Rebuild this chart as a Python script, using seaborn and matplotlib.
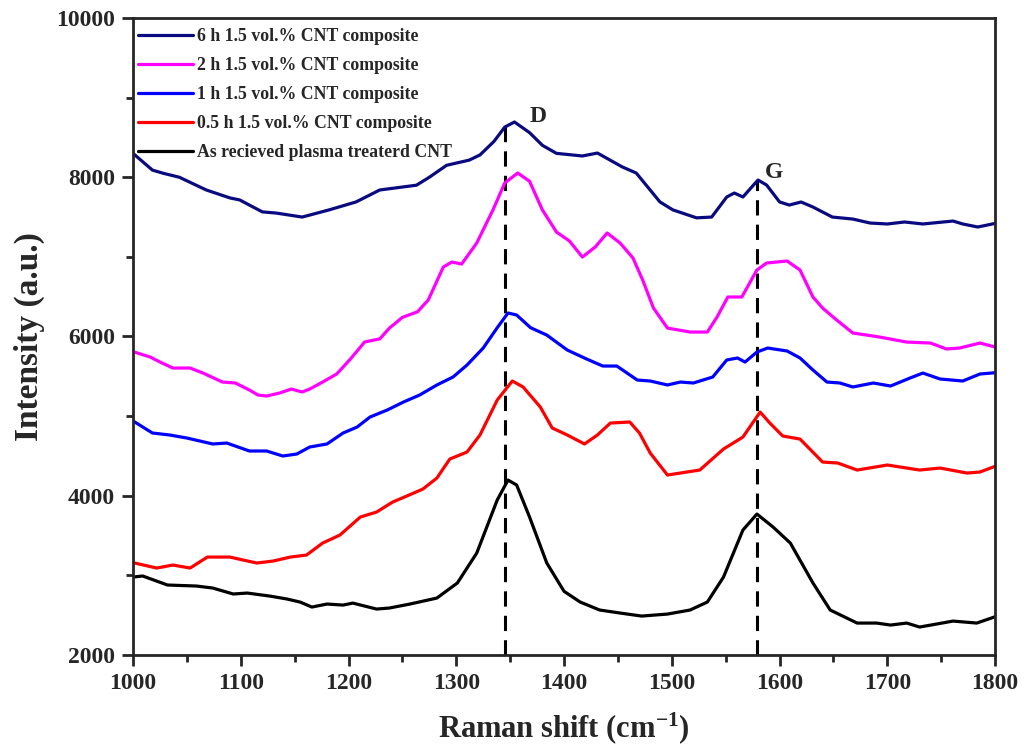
import numpy as np
import pandas as pd
import matplotlib
matplotlib.use("Agg")
import matplotlib.pyplot as plt
import seaborn as sns
from matplotlib.ticker import MultipleLocator

# Raman spectra (shift in cm^-1, intensity in a.u.)
shift_6h = [1000, 1018, 1028, 1043, 1068, 1090, 1099, 1120, 1133, 1157, 1182, 1207, 1229, 1263,
            1275, 1291, 1312, 1322, 1335, 1345, 1354, 1368, 1380, 1393, 1417, 1431, 1454, 1467,
            1489, 1501, 1523, 1537, 1551, 1558, 1566, 1580, 1588, 1600, 1609, 1620, 1631, 1649,
            1668, 1684, 1700, 1716, 1733, 1761, 1770, 1784, 1800]
int_6h = [8300, 8090, 8050, 8000, 7840, 7740, 7715, 7565, 7550, 7500, 7590, 7690, 7840, 7900,
          8000, 8150, 8215, 8280, 8450, 8630, 8694, 8560, 8400, 8300, 8267, 8304, 8130, 8053,
          7690, 7590, 7490, 7500, 7752, 7802, 7752, 7965, 7902, 7690, 7651, 7689, 7626, 7500,
          7475, 7425, 7413, 7438, 7413, 7450, 7413, 7375, 7420]

shift_2h = [1000, 1016, 1025, 1037, 1053, 1065, 1083, 1095, 1108, 1116, 1124, 1136, 1147, 1157,
            1164, 1176, 1189, 1201, 1215, 1229, 1238, 1250, 1264, 1274, 1288, 1296, 1305, 1319,
            1334, 1345, 1357, 1368, 1380, 1393, 1405, 1417, 1429, 1440, 1452, 1464, 1473, 1483,
            1496, 1517, 1533, 1542, 1552, 1565, 1579, 1588, 1607, 1619, 1631, 1640, 1653, 1668,
            1693, 1718, 1740, 1755, 1767, 1786, 1800]
int_2h = [5810, 5742, 5680, 5604, 5604, 5541, 5428, 5416, 5328, 5265, 5252, 5290, 5340, 5303,
          5340, 5428, 5529, 5705, 5931, 5970, 6106, 6240, 6310, 6458, 6873, 6935, 6910, 7174,
          7588, 7928, 8053, 7950, 7588, 7312, 7200, 6998, 7124, 7300, 7174, 6986, 6709, 6357,
          6106, 6056, 6056, 6244, 6496, 6496, 6835, 6923, 6948, 6835, 6496, 6357, 6207, 6044,
          5993, 5930, 5918, 5843, 5855, 5918, 5868]

shift_1h = [1000, 1018, 1034, 1050, 1074, 1087, 1108, 1124, 1139, 1152, 1164, 1180, 1195, 1208,
            1220, 1236, 1251, 1266, 1282, 1297, 1310, 1325, 1338, 1348, 1356, 1369, 1384, 1403,
            1421, 1436, 1449, 1468, 1480, 1496, 1508, 1520, 1538, 1551, 1561, 1568, 1579, 1589,
            1607, 1619, 1631, 1644, 1656, 1668, 1687, 1703, 1721, 1733, 1749, 1770, 1786, 1800]
int_1h = [4940, 4788, 4763, 4725, 4650, 4662, 4562, 4562, 4499, 4524, 4612, 4650, 4788, 4863,
          4989, 5077, 5177, 5265, 5391, 5491, 5642, 5855, 6110, 6295, 6270, 6110, 6018, 5830,
          5717, 5629, 5629, 5453, 5441, 5391, 5428, 5416, 5491, 5705, 5730, 5679, 5805, 5855,
          5818, 5730, 5579, 5428, 5416, 5366, 5416, 5378, 5478, 5541, 5466, 5441, 5529, 5545]

shift_05h = [1000, 1022, 1037, 1053, 1069, 1090, 1102, 1115, 1130, 1146, 1161, 1176, 1192, 1211,
             1226, 1241, 1254, 1269, 1282, 1294, 1310, 1322, 1338, 1352, 1362, 1378, 1389, 1403,
             1419, 1431, 1443, 1461, 1470, 1480, 1496, 1514, 1526, 1548, 1566, 1582, 1591, 1603,
             1619, 1640, 1654, 1672, 1700, 1730, 1749, 1774, 1786, 1800]
int_05h = [3160, 3092, 3130, 3092, 3230, 3230, 3193, 3155, 3180, 3230, 3255, 3406, 3506, 3733,
           3795, 3921, 3996, 4084, 4222, 4461, 4549, 4763, 5202, 5441, 5366, 5114, 4851, 4763,
           4650, 4763, 4913, 4926, 4788, 4536, 4260, 4298, 4323, 4587, 4737, 5051, 4913, 4750,
           4712, 4423, 4411, 4323, 4386, 4323, 4348, 4285, 4298, 4370]

shift_cnt = [1000, 1009, 1032, 1059, 1074, 1093, 1106, 1127, 1143, 1155, 1166, 1180, 1195, 1204,
             1226, 1238, 1257, 1282, 1301, 1319, 1338, 1348, 1356, 1368, 1384, 1400, 1415, 1433,
             1452, 1472, 1496, 1517, 1533, 1548, 1566, 1579, 1594, 1610, 1631, 1647, 1672, 1690,
             1703, 1718, 1730, 1761, 1783, 1800]
int_cnt = [2979, 2992, 2879, 2866, 2841, 2766, 2778, 2740, 2703, 2665, 2602, 2640, 2627, 2652,
           2577, 2590, 2640, 2715, 2904, 3280, 3946, 4197, 4135, 3733, 3155, 2800, 2665, 2565,
           2527, 2489, 2514, 2565, 2665, 2979, 3569, 3770, 3607, 3406, 2904, 2565, 2401, 2401,
           2376, 2401, 2351, 2426, 2401, 2480]

labels = ["6 h 1.5 vol.% CNT composite",
          "2 h 1.5 vol.% CNT composite",
          "1 h 1.5 vol.% CNT composite",
          "0.5 h 1.5 vol.% CNT composite",
          "As recieved plasma treaterd CNT"]
colors = ["#0a0a80", "#ff00ff", "#0000ff", "#ff0000", "#000000"]

# Band positions, the top of each marker line, and where the band letter sits
band_names = ["D", "G"]
band_pos = [1345, 1579]
band_top = [8640, 7965]
band_label_xy = [(1368, 8690), (1586, 7990)]

sns.set_style("ticks")
plt.rcParams["font.family"] = ["Liberation Serif", "DejaVu Serif"]
plt.rcParams["font.weight"] = "bold"
plt.rcParams["mathtext.fontset"] = "custom"
plt.rcParams["mathtext.rm"] = "Liberation Serif:bold"
plt.rcParams["mathtext.bf"] = "Liberation Serif:bold"
plt.rcParams["mathtext.default"] = "rm"

fig = plt.figure(figsize=(10.27, 7.56), dpi=100)
ax = fig.add_axes([0.1295, 0.1336, 0.8394, 0.8426])

series = [(shift_6h, int_6h), (shift_2h, int_2h), (shift_1h, int_1h),
          (shift_05h, int_05h), (shift_cnt, int_cnt)]
for (xs, ys), lab, col in zip(series, labels, colors):
    df = pd.DataFrame({"shift": xs, "intensity": ys})
    sns.lineplot(data=df, x="shift", y="intensity", ax=ax, color=col,
                 linewidth=2.3, label=lab, estimator=None,
                 solid_joinstyle="round", solid_capstyle="round")

# Dashed guide lines for the D and G bands
for name, pos, top, (lx, ly) in zip(band_names, band_pos, band_top, band_label_xy):
    ax.vlines(pos, 2000, top, colors="black", linestyles=(0, (5, 3)), linewidth=2.2, zorder=1)
    ax.text(lx, ly, name, fontsize=17, fontweight="bold", ha="left", va="baseline")

ax.set_xlim(1000, 1800)
ax.set_ylim(2000, 10000)
ax.xaxis.set_major_locator(MultipleLocator(100))
ax.xaxis.set_minor_locator(MultipleLocator(50))
ax.yaxis.set_major_locator(MultipleLocator(2000))
ax.yaxis.set_minor_locator(MultipleLocator(1000))
ax.tick_params(which="major", direction="out", length=8, width=2, labelsize=17, pad=5)
ax.tick_params(which="minor", direction="out", length=5, width=2)
for lbl in ax.get_xticklabels() + ax.get_yticklabels():
    lbl.set_fontweight("bold")
for sp in ax.spines.values():
    sp.set_linewidth(2)
    sp.set_visible(True)

ax.set_xlabel("Raman shift (cm$^{-1}$)", fontsize=22, fontweight="bold", labelpad=12)
ax.set_ylabel("Intensity (a.u.)", fontsize=24, fontweight="bold", labelpad=8)

leg = ax.legend(loc="upper left", bbox_to_anchor=(-0.006, 1.0), frameon=False, handlelength=3.1,
                handletextpad=0.25, labelspacing=0.68, borderaxespad=0.35, borderpad=0.2,
                prop={"weight": "bold", "size": 12.8})
for line in leg.get_lines():
    line.set_linewidth(2.3)

fig.savefig("out.png", dpi=100)
